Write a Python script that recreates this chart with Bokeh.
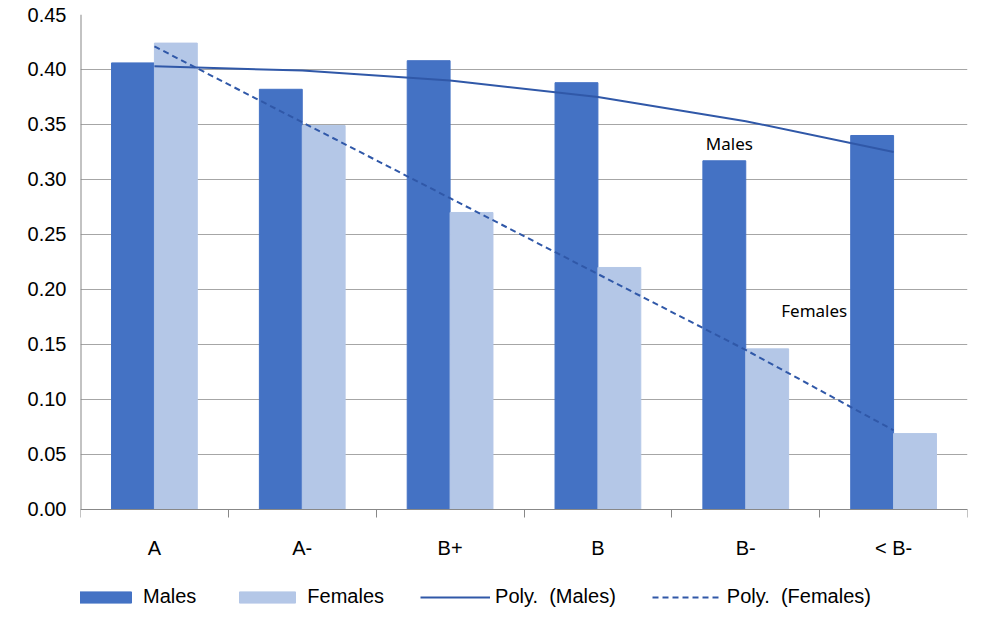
from bokeh.plotting import figure
from bokeh.models import FixedTicker, Range1d, Legend, LegendItem, NumeralTickFormatter, Label
from bokeh.embed import file_html
from bokeh.resources import INLINE

grades = ['A', 'A-', 'B+', 'B', 'B-', '< B-']
males = [0.406, 0.382, 0.408, 0.388, 0.317, 0.340]
females = [0.424, 0.349, 0.270, 0.220, 0.146, 0.069]
poly_males = [0.403, 0.399, 0.390, 0.375, 0.353, 0.325]
poly_females = [0.421, 0.352, 0.283, 0.214, 0.145, 0.072]
y_ticks = [0.0, 0.05, 0.10, 0.15, 0.20, 0.25, 0.30, 0.35, 0.40, 0.45]

centers = [i + 0.5 for i in range(len(grades))]

# frame runs below zero so the legend can sit under the category labels
p = figure(frame_width=887, frame_height=600, output_backend="svg", toolbar_location=None,
           x_range=Range1d(0, 6), y_range=Range1d(-0.0955, 0.45),
           min_border_left=80, min_border_right=6, min_border_top=14, min_border_bottom=0)
p.outline_line_color = None
p.background_fill_color = 'white'

mb = p.vbar(x=[c - 0.145 for c in centers], top=males, width=0.29, color='#4472C4')
fb = p.vbar(x=[c + 0.145 for c in centers], top=females, width=0.29, color='#B4C7E7')
ml = p.line(centers, poly_males, line_color='#3058A8', line_width=2)
fl = p.line(centers, poly_females, line_color='#3058A8', line_width=2, line_dash="6 4")
p.segment(x0=[0], y0=[0], x1=[0], y1=[y_ticks[-1]], line_color='#888888', line_width=2)

p.xaxis.fixed_location = 0
p.xaxis.ticker = FixedTicker(ticks=centers, minor_ticks=list(range(7)))
p.xaxis.major_label_overrides = {c: g for c, g in zip(centers, grades)}
p.xaxis.major_tick_line_color = None
p.xaxis.minor_tick_out = 8
p.xaxis.minor_tick_in = 0
p.xaxis.minor_tick_line_color = '#888888'
p.xaxis.axis_line_color = '#888888'
p.yaxis.axis_line_color = None
p.yaxis.major_tick_line_color = None
p.yaxis.minor_tick_line_color = None
p.yaxis.ticker = FixedTicker(ticks=y_ticks)
p.yaxis.formatter = NumeralTickFormatter(format='0.00')
for ax in (p.xaxis, p.yaxis):
    ax.major_label_text_font = 'Liberation Sans'
    ax.major_label_text_font_size = '20px'
    ax.major_label_text_color = 'black'
p.xaxis.major_label_standoff = 20
p.yaxis.major_label_standoff = 8
p.xgrid.grid_line_color = None
p.ygrid.grid_line_color = '#A6A6A6'
p.ygrid.grid_line_alpha = 1

p.add_layout(Label(x=4.23, y=0.322, text='Males', text_font='Noto Sans', text_font_size='17px', text_color='black'))
p.add_layout(Label(x=4.74, y=0.170, text='Females', text_font='Noto Sans', text_font_size='17px', text_color='black'))

legend = Legend(items=[LegendItem(label='Males', renderers=[mb]),
                       LegendItem(label='Females', renderers=[fb]),
                       LegendItem(label='Poly.  (Males)', renderers=[ml]),
                       LegendItem(label='Poly.  (Females)', renderers=[fl])],
                orientation='horizontal', location=(-12, 6), border_line_color=None,
                background_fill_alpha=0,
                glyph_width=70, glyph_height=14, label_text_font='Liberation Sans',
                label_text_font_size='20px', label_text_color='black',
                spacing=36, margin=0, padding=2)
p.add_layout(legend, 'center')

open("out.html", "w").write(file_html(p, INLINE))
